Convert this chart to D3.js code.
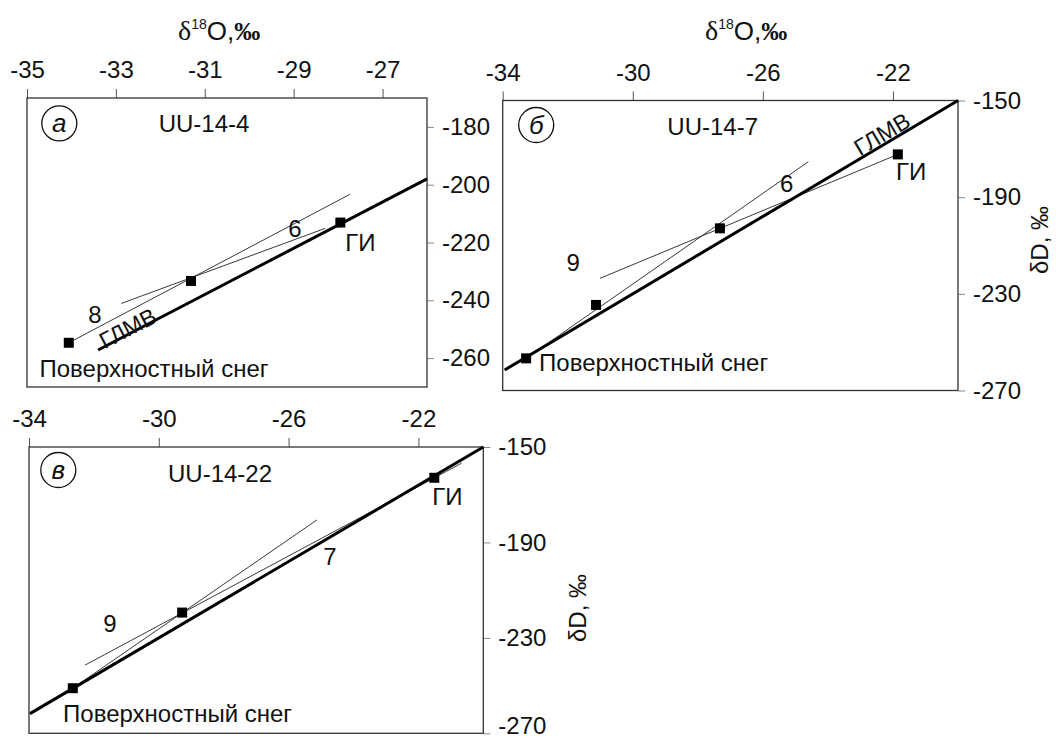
<!DOCTYPE html>
<html>
<head>
<meta charset="utf-8">
<script src="https://cdn.jsdelivr.net/npm/d3@7"></script>
<style>
  body { margin: 0; background: #fff; }
  svg text { font-family: "Liberation Sans", Arial, sans-serif; fill: #111; }
</style>
</head>
<body>
<script>
const w = 1056, h = 741;

// global meteoric water line: dD = 8 * d18O + 10
const gmwlSlope = 8, gmwlIntercept = 10;

// а - UU-14-4
const aO18 = [-34.06, -31.31, -27.95];
const aD = [-254.7, -233.3, -213.1];
const aFitLabels = ['8', '6'];
const aFitO18 = [[-34.06, -27.73], [-32.88, -28.29]];
const aFitD = [[-254.7, -203.3], [-241.1, -215.1]];
const aGmwlFrom = -33.4;
const aXTicks = [-35, -33, -31, -29, -27];
const aYTicks = [-180, -200, -220, -240, -260];

// б - UU-14-7
const bO18 = [-33.28, -31.13, -27.32, -21.85];
const bD = [-256.7, -234.6, -202.9, -172.3];
const bFitLabels = ['9', '6'];
const bFitO18 = [[-33.28, -24.6], [-31.01, -21.85]];
const bFitD = [[-256.7, -175.3], [-223.6, -172.3]];
const bGmwlFrom = -33.94;

// в - UU-14-22
const vO18 = [-32.65, -29.28, -21.51];
const vD = [-251.1, -219.4, -162.9];
const vFitLabels = ['9', '7'];
const vFitO18 = [[-32.65, -25.13], [-32.27, -20.67]];
const vFitD = [[-251.1, -180.6], [-241.4, -156.8]];
const vGmwlFrom = -33.97;

const bvXTicks = [-34, -30, -26, -22];
const bvYTicks = [-150, -190, -230, -270];

const panels = [
  { letter: 'а', sample: 'UU-14-4', left: 27, top: 98, width: 400, height: 289,
    xDomain: [-35, -26], yDomain: [-270, -170], xTicks: aXTicks, yTicks: aYTicks,
    o18: aO18, d: aD, fitO18: aFitO18, fitD: aFitD, fitLabels: aFitLabels, gmwlFrom: aGmwlFrom,
    fitLabelPos: [[68, 224.7], [268, 138.7]], gmwlLabel: [100.7, 230.3],
    giOff: [20, 28], snowOff: [-29.3, 34.3], samplePos: [177, 33.7], circle: [32.3, 25.3],
    xTitle: [178, 40], yTitle: null },
  { letter: 'б', sample: 'UU-14-7', left: 502.7, top: 100.5, width: 455.3, height: 290,
    xDomain: [-34, -20], yDomain: [-270, -150], xTicks: bvXTicks, yTicks: bvYTicks,
    o18: bO18, d: bD, fitO18: bFitO18, fitD: bFitD, fitLabels: bFitLabels, gmwlFrom: bGmwlFrom,
    fitLabelPos: [[70.6, 170.5], [284, 91.2]], gmwlLabel: [379.3, 33.5],
    giOff: [13.3, 25.7], snowOff: [13, 12.7], samplePos: [210, 34.5], circle: [33.5, 24.5],
    xTitle: [705, 40], yTitle: [1040, 240] },
  { letter: 'в', sample: 'UU-14-22', left: 29, top: 447, width: 454.3, height: 286.3,
    xDomain: [-34, -20], yDomain: [-270, -150], xTicks: bvXTicks, yTicks: bvYTicks,
    o18: vO18, d: vD, fitO18: vFitO18, fitD: vFitD, fitLabels: vFitLabels, gmwlFrom: vGmwlFrom,
    fitLabelPos: [[81, 184.7], [301, 118]], gmwlLabel: null,
    giOff: [13, 27.3], snowOff: [-9.7, 33.4], samplePos: [191, 34.7], circle: [29.3, 23],
    xTitle: null, yTitle: [578, 608] }
];

const svg = d3.select('body').append('svg')
  .attr('width', w)
  .attr('height', h);

const fmt = d => String(d);
const fs = 24;

panels.forEach(p => {
  const x = d3.scaleLinear().domain(p.xDomain).range([0, p.width]);
  const y = d3.scaleLinear().domain(p.yDomain).range([p.height, 0]);
  const g = svg.append('g').attr('transform', `translate(${p.left},${p.top})`);

  // top axis
  g.append('g')
    .call(d3.axisTop(x).tickValues(p.xTicks).tickSize(9).tickPadding(11).tickFormat(fmt))
    .call(a => a.select('.domain').remove())
    .call(a => a.selectAll('line').attr('stroke', '#555'))
    .call(a => a.selectAll('text').attr('font-size', fs).attr('fill', '#111')
      .attr('font-family', '"Liberation Sans", Arial, sans-serif'));

  // right axis (bottom label of the lower panel sits on the page edge)
  g.append('g')
    .attr('transform', `translate(${p.width},0)`)
    .call(d3.axisRight(y).tickValues(p.yTicks).tickSize(7).tickPadding(8).tickFormat(fmt))
    .call(a => a.select('.domain').remove())
    .call(a => a.selectAll('line').attr('stroke', '#888'))
    .call(a => a.selectAll('text').attr('font-size', fs).attr('fill', '#111')
      .attr('font-family', '"Liberation Sans", Arial, sans-serif'))
    .call(a => a.selectAll('text').filter(d => d === -270 && p.top > 400).attr('dy', '0em'));

  // frame
  g.append('rect')
    .attr('width', p.width)
    .attr('height', p.height)
    .attr('fill', 'none')
    .attr('stroke', '#333')
    .attr('stroke-width', 1.3);

  const line = d3.line().x(d => x(d[0])).y(d => y(d[1]));

  // fitted lines
  p.fitO18.forEach((xs, i) => {
    g.append('path')
      .attr('d', line(xs.map((v, j) => [v, p.fitD[i][j]])))
      .attr('fill', 'none')
      .attr('stroke', '#222')
      .attr('stroke-width', 0.9);
    g.append('text')
      .attr('x', p.fitLabelPos[i][0])
      .attr('y', p.fitLabelPos[i][1])
      .attr('text-anchor', 'middle')
      .attr('font-size', fs)
      .text(p.fitLabels[i]);
  });

  // GMWL
  const gx = [p.gmwlFrom, p.xDomain[1]];
  const gmwlPts = gx.map(v => [v, gmwlSlope * v + gmwlIntercept]);
  g.append('path')
    .attr('d', line(gmwlPts))
    .attr('fill', 'none')
    .attr('stroke', '#000')
    .attr('stroke-width', 3);

  if (p.gmwlLabel) {
    const ang = Math.atan2(y(gmwlPts[1][1]) - y(gmwlPts[0][1]), x(gmwlPts[1][0]) - x(gmwlPts[0][0])) * 180 / Math.PI;
    g.append('text')
      .attr('transform', `translate(${p.gmwlLabel[0]},${p.gmwlLabel[1]}) rotate(${ang})`)
      .attr('text-anchor', 'middle')
      .attr('dy', '0.35em')
      .attr('font-size', 23)
      .text('ГЛМВ');
  }

  // sample points
  g.selectAll('path.pt')
    .data(p.o18.map((v, i) => [v, p.d[i]]))
    .enter()
    .append('path')
    .attr('class', 'pt')
    .attr('transform', d => `translate(${x(d[0])},${y(d[1])})`)
    .attr('d', d3.symbol(d3.symbolSquare, 100))
    .attr('fill', '#000');

  const first = [x(p.o18[0]), y(p.d[0])];
  const last = [x(p.o18[p.o18.length - 1]), y(p.d[p.d.length - 1])];

  g.append('text')
    .attr('x', first[0] + p.snowOff[0])
    .attr('y', first[1] + p.snowOff[1])
    .attr('font-size', fs)
    .text('Поверхностный снег');

  g.append('text')
    .attr('x', last[0] + p.giOff[0])
    .attr('y', last[1] + p.giOff[1])
    .attr('text-anchor', 'middle')
    .attr('font-size', fs)
    .text('ГИ');

  // sample id and panel letter
  g.append('text')
    .attr('x', p.samplePos[0])
    .attr('y', p.samplePos[1])
    .attr('text-anchor', 'middle')
    .attr('font-size', fs)
    .text(p.sample);

  g.append('circle')
    .attr('cx', p.circle[0])
    .attr('cy', p.circle[1])
    .attr('r', 17.5)
    .attr('fill', 'none')
    .attr('stroke', '#111')
    .attr('stroke-width', 1.3);

  g.append('text')
    .attr('x', p.circle[0])
    .attr('y', p.circle[1])
    .attr('dy', '0.35em')
    .attr('text-anchor', 'middle')
    .attr('font-size', 26)
    .attr('font-style', 'italic')
    .text(p.letter);

  // axis titles
  if (p.xTitle) {
    const t = svg.append('text')
      .attr('x', p.xTitle[0])
      .attr('y', p.xTitle[1])
      .attr('font-size', 26);
    t.append('tspan').attr('font-family', '"Liberation Serif", serif').attr('font-size', 28).text('δ');
    t.append('tspan').attr('font-size', 14).attr('dy', -11).text('18');
    t.append('tspan').attr('dy', 11).text('O,');
    t.append('tspan').attr('font-weight', 'bold').attr('font-family', '"Liberation Serif", serif').text('‰');
  }
  if (p.yTitle) {
    svg.append('text')
      .attr('transform', `translate(${p.yTitle[0]},${p.yTitle[1]}) rotate(-90)`)
      .attr('text-anchor', 'middle')
      .attr('dy', '0.32em')
      .attr('font-size', 24)
      .text('δD, ‰');
  }
});
</script>
</body>
</html>
